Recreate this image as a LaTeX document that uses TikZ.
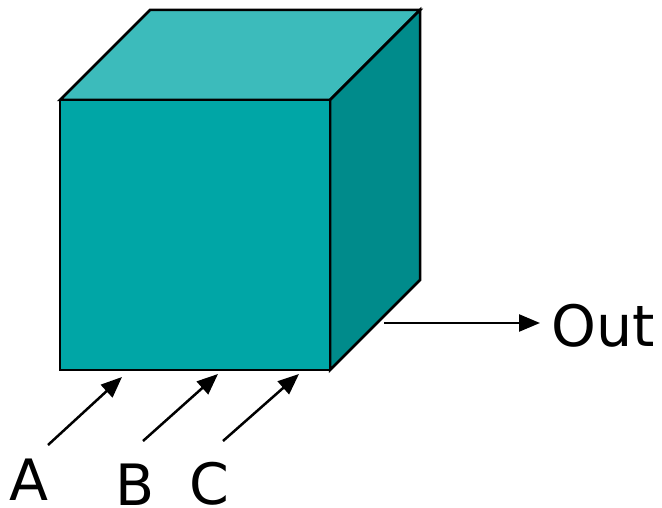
\documentclass[tikz,border=0pt]{standalone}
\usepackage{fontspec}
\setmainfont{DejaVu Sans}
\usetikzlibrary{arrows.meta}
\definecolor{frontc}{RGB}{0,166,166}
\definecolor{topc}{RGB}{60,187,187}
\definecolor{sidec}{RGB}{0,139,139}
\begin{document}
\begin{tikzpicture}[x=1pt,y=-1pt,
  face/.style={draw=black,line width=2.5pt,line join=miter},
  arr/.style={draw=black,line width=2.5pt,-{Triangle[length=21pt,width=17pt]}},
  lbl/.style={font=\fontsize{57}{57}\selectfont,inner sep=0pt,anchor=base}]
\useasboundingbox (0,0) rectangle (662,508);
% cube
\coordinate (ftl) at (60,100);
\coordinate (ftr) at (330,100);
\coordinate (fbr) at (330,370);
\coordinate (fbl) at (60,370);
\coordinate (btl) at (150,10);
\coordinate (btr) at (420,10);
\coordinate (bbr) at (420,280);
\filldraw[face,fill=topc] (ftl) -- (btl) -- (btr) -- (ftr) -- cycle;
\filldraw[face,fill=sidec] (ftr) -- (btr) -- (bbr) -- (fbr) -- cycle;
\filldraw[face,fill=frontc] (ftl) -- (ftr) -- (fbr) -- (fbl) -- cycle;
% labels
\node[lbl] (A) at (29,500) {A};
\node[lbl] (B) at (135,505) {B};
\node[lbl] (C) at (209,504) {C};
\node[lbl] (Out) at (603,346) {Out};
% arrow ends
\coordinate (a0) at (48,445);
\coordinate (a1) at (122,377);
\coordinate (b0) at (143,441);
\coordinate (b1) at (218,374);
\coordinate (c0) at (223,441);
\coordinate (c1) at (299,374);
\coordinate (o0) at (384,323);
\coordinate (o1) at (540,323);
\draw[arr] (a0) -- (a1);
\draw[arr] (b0) -- (b1);
\draw[arr] (c0) -- (c1);
\draw[arr] (o0) -- (o1);
\end{tikzpicture}
\end{document}
